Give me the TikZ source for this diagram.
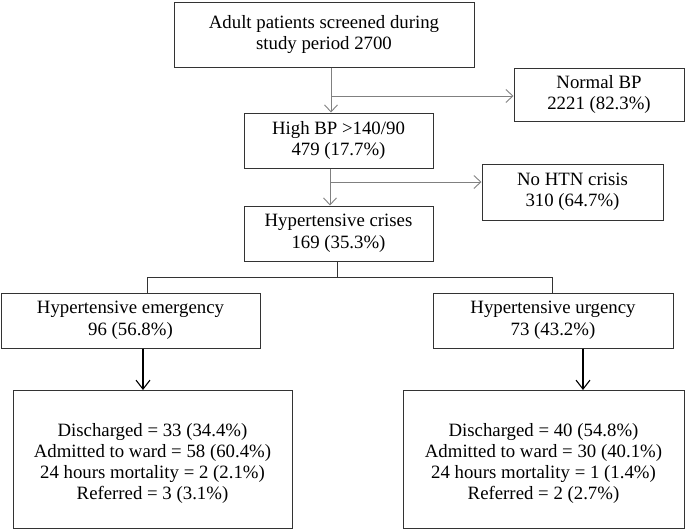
\documentclass[tikz,border=0pt]{standalone}
\usepackage{fontspec}
\setmainfont{Liberation Serif}
\usetikzlibrary{arrows.meta}
\definecolor{boxline}{HTML}{333333}
\definecolor{connline}{HTML}{808080}
\tikzset{
  box/.style={draw=boxline, line width=1pt, inner sep=0pt, align=center,
    font=\fontsize{18.8}{21.5}\selectfont, text=black},
  txt/.style={inner sep=0pt, align=center, font=\fontsize{18.8}{21}\selectfont, text=black},
  garrow/.style={draw=connline, line width=0.9pt, -{Straight Barb[length=7pt,width=13pt,line width=0.9pt]}},
  blarrow/.style={draw=black, line width=1.1pt, -{Straight Barb[length=9pt,width=14pt,line width=1.1pt]}},
  bline/.style={draw=boxline, line width=0.9pt}
}
\begin{document}
\begin{tikzpicture}[x=1pt,y=-1pt]
\useasboundingbox (0,0) rectangle (685,531);
\node[box, minimum width=300pt, minimum height=65pt] (top) at (324,34.5) {Adult patients screened during\\study period 2700};
\node[box, minimum width=170pt, minimum height=53pt] (normal) at (599,94.5) {Normal BP\\2221 (82.3\%)};
\node[box, minimum width=189pt, minimum height=55pt] (high) at (338.5,140.5) {High BP >140/90\\479 (17.7\%)};
\node[box, minimum width=181pt, minimum height=56pt] (nohtn) at (572.5,192) {No HTN crisis\\310 (64.7\%)};
\node[box, minimum width=189pt, minimum height=55pt] (crises) at (338.5,233.5) {Hypertensive crises\\169 (35.3\%)};
\node[box, minimum width=259pt, minimum height=55pt] (emerg) at (130.5,320.5) {Hypertensive emergency\\96 (56.8\%)};
\node[box, minimum width=240pt, minimum height=55pt] (urg) at (553,320.5) {Hypertensive urgency\\73 (43.2\%)};
\node[box, minimum width=279pt, minimum height=138pt] (lbot) at (152.5,459.5) {};
\node[txt] (ltxt) at ([yshift=-4pt]lbot.center) {Discharged = 33 (34.4\%)\\Admitted to ward = 58 (60.4\%)\\24 hours mortality = 2 (2.1\%)\\Referred = 3 (3.1\%)};
\node[box, minimum width=281pt, minimum height=138pt] (rbot) at (543.5,459.5) {};
\node[txt] (rtxt) at ([yshift=-4pt]rbot.center) {Discharged = 40 (54.8\%)\\Admitted to ward = 30 (40.1\%)\\24 hours mortality = 1 (1.4\%)\\Referred = 2 (2.7\%)};
% upper connectors
\coordinate (v1) at (331,96);
\coordinate (v2) at (330,182);
\draw[garrow] (top.south -| v1) -- (high.north -| v1);
\draw[garrow] (v1) -- (v1 -| normal.west);
\draw[garrow] (high.south -| v2) -- (crises.north -| v2);
\draw[garrow] (v2) -- (v2 -| nohtn.west);
% split
\coordinate (s0) at (337,277);
\coordinate (sl) at (147,277);
\coordinate (sr) at (552,277);
\draw[bline] (crises.south -| s0) -- (s0);
\draw[bline] (emerg.north -| sl) -- (sl) -- (sr) -- (urg.north -| sr);
% lower arrows
\coordinate (al) at (143,0);
\coordinate (ar) at (583,0);
\draw[blarrow] (emerg.south -| al) -- (lbot.north -| al);
\draw[blarrow] (urg.south -| ar) -- (rbot.north -| ar);
\end{tikzpicture}
\end{document}
